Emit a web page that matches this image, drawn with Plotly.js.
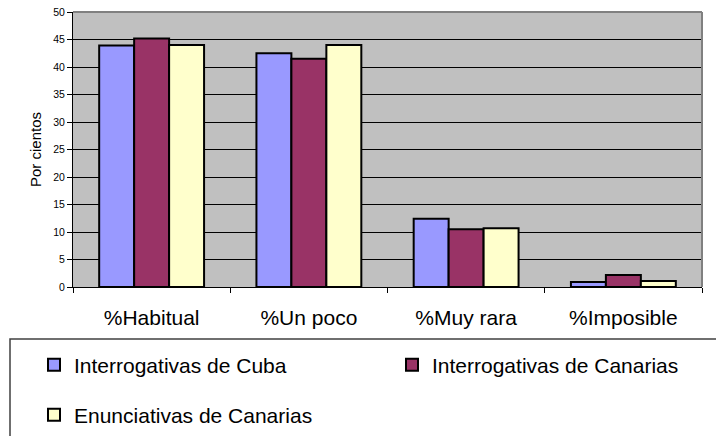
<!DOCTYPE html>
<html><head><meta charset="utf-8">
<script src="https://cdn.plot.ly/plotly-3.0.1.min.js"></script>
<style>html,body{margin:0;padding:0;background:#fff}#chart{width:716px;height:436px}</style>
</head><body><div id="chart"></div>
<script>
const categories = ['%Habitual', '%Un poco', '%Muy rara', '%Imposible'];
const interrogativasCuba = [43.9, 42.5, 12.4, 0.9];
const interrogativasCanarias = [45.2, 41.5, 10.5, 2.2];
const enunciativasCanarias = [44.0, 44.0, 10.7, 1.1];
const seriesNames = ['Interrogativas de Cuba', 'Interrogativas de Canarias', 'Enunciativas de Canarias'];
const seriesColors = ['#9999FF', '#993366', '#FFFFCC'];
const yTickValues = [0, 5, 10, 15, 20, 25, 30, 35, 40, 45, 50];
const yTitle = 'Por cientos';

const FONT = 'Arial, Liberation Sans, sans-serif';
const seriesValues = [interrogativasCuba, interrogativasCanarias, enunciativasCanarias];
const legendIds = ['legend', 'legend2', 'legend3'];

const traces = seriesValues.map((vals, i) => ({
  type: 'bar',
  name: seriesNames[i],
  x: categories,
  y: vals,
  marker: { color: seriesColors[i], line: { color: '#000000', width: 2 } },
  legend: legendIds[i],
  hoverinfo: 'none'
}));

// plot area in pixels: x 73..702, y 12..287
const W = 716, H = 436;
const L = 73, R = 702, T = 12, B = 287;
const px = v => (v - L) / (R - L);
const py = v => (B - v) / (B - T);
const cy = v => 1 - v / H;

const legendBase = {
  font: { family: FONT, size: 21, color: '#000' },
  bgcolor: 'rgba(0,0,0,0)',
  borderwidth: 0,
  xref: 'paper', yref: 'container',
  xanchor: 'left',
  yanchor: 'middle'
};

const layout = {
  width: W, height: H,
  margin: { l: L, r: W - R, t: T, b: H - B, pad: 0 },
  paper_bgcolor: '#ffffff',
  plot_bgcolor: '#C0C0C0',
  font: { family: FONT, color: '#000' },
  barmode: 'group',
  bargap: 0.333,
  bargroupgap: 0,
  showlegend: true,
  xaxis: {
    type: 'category',
    tickson: 'boundaries',
    ticks: 'outside', ticklen: 5, tickcolor: '#000', tickwidth: 1,
    showline: true, linecolor: '#000', linewidth: 1,
    showgrid: false, zeroline: false,
    tickfont: { family: FONT, size: 21, color: '#000' },
    tickangle: 0,
    ticklabelstandoff: 12,
    automargin: false,
    fixedrange: true
  },
  yaxis: {
    range: [0, 50],
    tickvals: yTickValues,
    ticks: 'outside', ticklen: 5, tickcolor: '#000', tickwidth: 1,
    showline: true, linecolor: '#000', linewidth: 1,
    showgrid: true, gridcolor: '#000', gridwidth: 1,
    zeroline: false,
    tickfont: { family: FONT, size: 10.5, color: '#000' },
    title: { text: yTitle, font: { family: FONT, size: 15, color: '#000' }, standoff: 7 },
    automargin: false,
    fixedrange: true
  },
  legend: Object.assign({}, legendBase, { x: px(34), y: cy(365) }),
  legend2: Object.assign({}, legendBase, { x: px(392), y: cy(365) }),
  legend3: Object.assign({}, legendBase, { x: px(34), y: cy(415) }),
  shapes: [
    { type: 'line', xref: 'paper', yref: 'paper', x0: 0, x1: 1, y0: 1, y1: 1, line: { color: '#808080', width: 2 } },
    { type: 'line', xref: 'paper', yref: 'paper', x0: 1, x1: 1, y0: 0, y1: 1, line: { color: '#808080', width: 2 } },
    { type: 'rect', xref: 'paper', yref: 'paper', x0: px(10), x1: px(730), y0: py(339), y1: py(450), line: { color: '#404040', width: 1.5 }, fillcolor: 'rgba(0,0,0,0)' }
  ]
};

Plotly.newPlot('chart', traces, layout, { staticPlot: true, displayModeBar: false });
</script>
</body></html>
